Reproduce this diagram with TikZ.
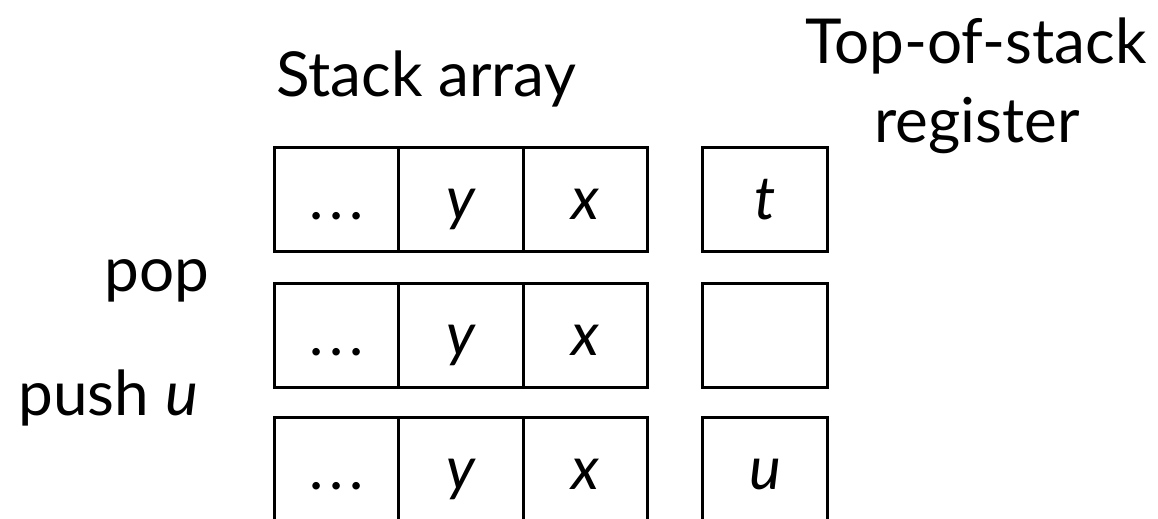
\documentclass[tikz,border=0pt]{standalone}
\usepackage{fontspec}
\setmainfont{Lato}
\newcommand{\mydots}{.\kern3pt.\kern3pt.}
\begin{document}
\begin{tikzpicture}[x=0.5pt,y=-0.5pt,
  cell/.style={draw=black,line width=1.5pt,rectangle,inner sep=0pt,outer sep=0pt,
    minimum width=62.25pt,minimum height=52pt,text height=25pt,text depth=5pt,
    font=\fontsize{30}{34}\selectfont},
  lbl/.style={inner sep=0pt,font=\fontsize{31}{36}\selectfont}]
\useasboundingbox[fill=white] (0,0) rectangle (1158,519);
% titles
\node[lbl,anchor=base] (title) at (426,97) {Stack array};
\node[lbl,anchor=base] (reg1) at (976,64) {Top-of-stack};
\node[lbl,anchor=base] (reg2) at (977,143) {register};
\node[lbl,anchor=base east] (pop) at (210,292) {pop};
\node[lbl,anchor=base west] (push) at (18,415) {push \textit{u}};
% row 1
\node[cell] (a1) at (336.5,200) {\mydots};
\node[cell] (b1) at (461,200) {\textit{y}};
\node[cell] (c1) at (585.5,200) {\textit{x}};
\node[cell] (r1) at (765,200) {\textit{t}};
% row 2
\node[cell] (a2) at (336.5,335) {\mydots};
\node[cell] (b2) at (461,335) {\textit{y}};
\node[cell] (c2) at (585.5,335) {\textit{x}};
\node[cell] (r2) at (765,335) {};
% row 3
\node[cell] (a3) at (336.5,469) {\mydots};
\node[cell] (b3) at (461,469) {\textit{y}};
\node[cell] (c3) at (585.5,469) {\textit{x}};
\node[cell] (r3) at (765,469) {\textit{u}};
\end{tikzpicture}
\end{document}
